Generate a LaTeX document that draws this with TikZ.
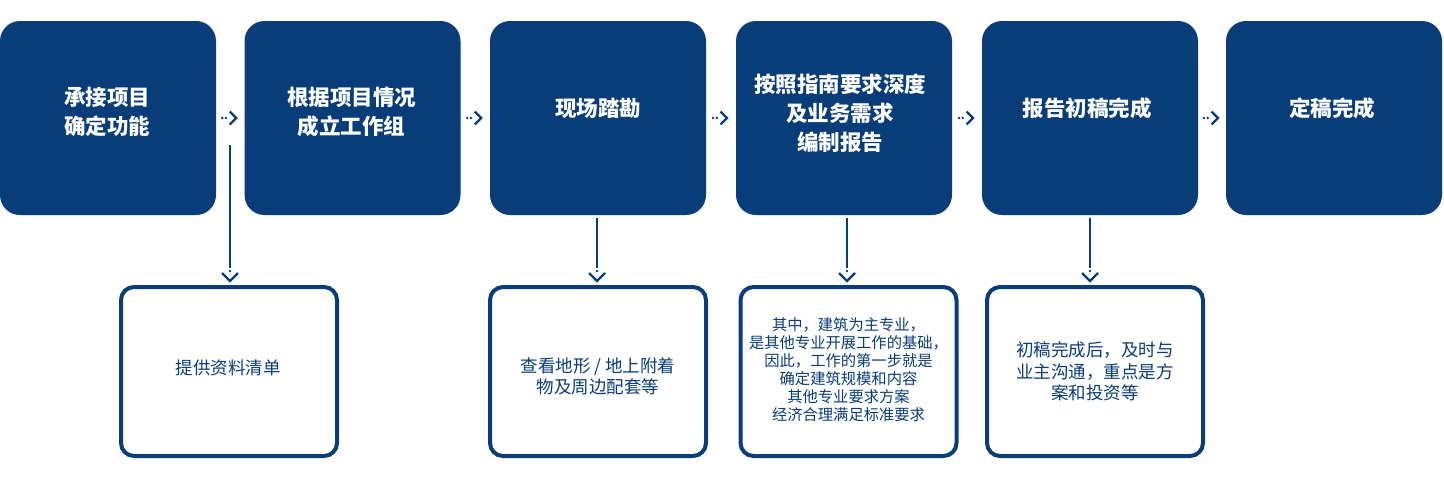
\documentclass[tikz,border=0pt]{standalone}
\usepackage{fontspec}
\setmainfont{Noto Sans CJK SC}
\usetikzlibrary{calc}
\definecolor{navy}{RGB}{8,61,122}
\begin{document}
\begin{tikzpicture}[x=1pt,y=-1pt,
  topbox/.style={fill=navy, draw=none, rounded corners=20pt, minimum width=216pt, minimum height=194pt, inner sep=0pt},
  toptext/.style={text=white, font=\bfseries\fontsize{21.5}{29}\selectfont, align=center, inner sep=0pt},
  lowbox/.style={draw=navy, line width=4pt, fill=white, rounded corners=13pt, minimum width=216pt, minimum height=169pt, inner sep=0pt},
  lowtext/.style={text=navy, font=\fontsize{17.5}{21.5}\selectfont, align=center, inner sep=0pt},
  smalltext/.style={text=navy, font=\fontsize{15.3}{18}\selectfont, align=center, inner sep=0pt},
  conn/.style={draw=navy, line width=2.4pt},
  hhead/.pic={
    \fill[navy] (-8,0) circle (1.4);
    \fill[navy] (-4.3,0) circle (1.4);
    \draw[navy, line width=2.4pt, line join=miter] (-0.5,-6.5) -- (6,0) -- (-0.5,6.5);
  },
  vhead/.pic={
    \fill[navy] (0,-14) circle (1.4);
    \draw[navy, line width=2.4pt, line join=miter] (-8,-12) -- (0,-4) -- (8,-12);
  }]
\useasboundingbox (0,0) rectangle (1444,480);

% top boxes
\node[topbox] (b1) at (108,118) {};
\node[topbox] (b2) at (352.5,118) {};
\node[topbox] (b3) at (598,118) {};
\node[topbox] (b4) at (844,118) {};
\node[topbox] (b5) at (1090,118) {};
\node[topbox] (b6) at (1334,118) {};

\node[toptext] (t1) at (107,111.5) {承接项目\\确定功能};
\node[toptext] (t2) at (351.5,111.5) {根据项目情况\\成立工作组};
\node[toptext] (t3) at (598,108) {现场踏勘};
\node[toptext] (t4) at (840,113) {按照指南要求深度\\及业务需求\\编制报告};
\node[toptext] (t5) at (1087,108) {报告初稿完成};
\node[toptext] (t6) at (1332,108) {定稿完成};

% horizontal arrow heads
\pic at ($(b1.east)!0.5!(b2.west)$) {hhead};
\pic at ($(b2.east)!0.5!(b3.west)$) {hhead};
\pic at ($(b3.east)!0.5!(b4.west)$) {hhead};
\pic at ($(b4.east)!0.5!(b5.west)$) {hhead};
\pic at ($(b5.east)!0.5!(b6.west)$) {hhead};

% lower boxes
\node[lowbox] (l1) at (229,371.5) {};
\node[lowbox] (l2) at (598,371.5) {};
\node[lowbox] (l3) at (848.5,371.5) {};
\node[lowbox] (l4) at (1095,371.5) {};

\node[lowtext] (s1) at (228,368) {提供资料清单};
\node[lowtext] (s2) at (598,376.5) {查看地形 / 地上附着\\物及周边配套等};
\node[smalltext] (s3) at (848.5,370) {其中，建筑为主专业，\\是其他专业开展工作的基础，\\因此，工作的第一步就是\\确定建筑规模和内容\\其他专业要求方案\\经济合理满足标准要求};
\node[lowtext] (s4) at (1095,371.5) {初稿完成后，及时与\\业主沟通，重点是方\\案和投资等};

% vertical connectors
\coordinate (a0) at (230,145);
\draw[conn] (a0) -- ($(l1.north -| a0)+(0,-17)$);
\pic at (l1.north -| a0) {vhead};

\coordinate (a2) at (597,218);
\draw[conn] (a2) -- ($(l2.north -| a2)+(0,-17)$);
\pic at (l2.north -| a2) {vhead};

\coordinate (a3) at (847,218);
\draw[conn] (a3) -- ($(l3.north -| a3)+(0,-17)$);
\pic at (l3.north -| a3) {vhead};

\coordinate (a4) at (1090,218);
\draw[conn] (a4) -- ($(l4.north -| a4)+(0,-17)$);
\pic at (l4.north -| a4) {vhead};
\end{tikzpicture}
\end{document}
